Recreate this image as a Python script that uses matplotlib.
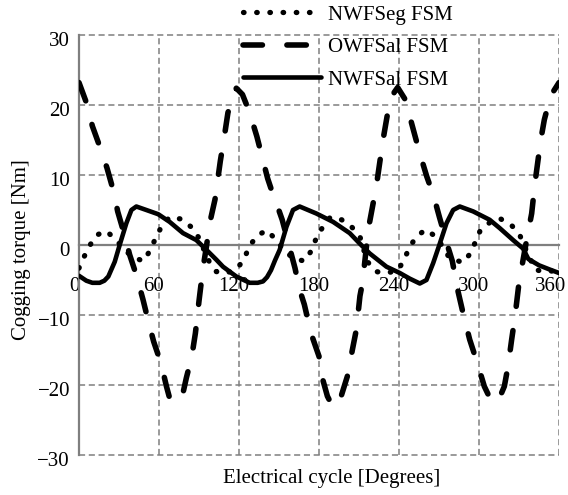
import matplotlib
matplotlib.use("Agg")
import matplotlib.pyplot as plt
from matplotlib.transforms import ScaledTranslation

plt.rcParams["font.family"] = ["Liberation Serif", "DejaVu Serif"]
plt.rcParams["axes.unicode_minus"] = True

# Electrical angle [deg] and cogging torque [Nm] for each machine
angle_seg = [0, 3.5, 8, 13, 20.5, 28, 34, 41, 48.5, 53.5, 57.5, 61.8, 68, 76.8, 84, 90,
             93.5, 97.5, 103, 111, 119, 124, 128, 134, 141, 148, 153.5, 160.7, 169, 174,
             178, 182.6, 188.6, 197, 204, 210.7, 216, 222.6, 231, 239.4, 244, 248, 253,
             260, 267.6, 273, 278, 288, 294, 297.6, 301, 308, 315.6, 324.5, 330.6, 336,
             342, 348, 353, 360]
torque_seg = [-3.3, -1.8, -0.1, 1.4, 2.0, 0.7, -0.7, -1.8, -2.3, -0.7, 1.0, 2.6, 4.0, 3.7,
              2.6, 1.0, -0.6, -2.3, -3.8, -4.0, -3.3, -1.9, -0.1, 1.4, 2.1, 0.7, -0.7, -1.9,
              -2.3, -0.9, 1.0, 2.5, 4.0, 3.6, 2.7, 1.2, -2.3, -3.8, -4.0, -3.6, -2.0, -0.3,
              1.2, 2.2, 1.2, -0.3, -1.9, -2.5, -1.1, 0.6, 2.1, 3.2, 3.8, 2.8, 1.4, -1.0,
              -3.5, -3.8, -3.7, -3.8]

angle_owsal = [0, 6, 10, 15.5, 21, 26.3, 29, 34.5, 38, 43, 48, 52, 56, 61.5, 65.6, 68, 71,
               74, 77, 80.5, 84.6, 87.3, 90, 93, 95.6, 98, 102, 106, 109, 111.7, 115, 118,
               122.6, 128, 133.4, 141.5, 145, 148, 152.4, 157, 162, 165.5, 169, 174, 180,
               182.2, 186.3, 190.3, 193, 195.8, 201.2, 205, 208, 210.7, 212, 214, 216, 218,
               223, 228, 232, 236.4, 239, 244.6, 250, 255.4, 260.8, 266, 270.3, 276.6, 280,
               284, 288, 293, 298.8, 304, 308, 312, 315, 319, 321.8, 324.5, 327, 330, 332.7,
               336, 339.5, 342, 346.3, 349, 353, 356, 360]
torque_owsal = [23.2, 20.1, 17.0, 14.1, 11.0, 7.4, 4.8, 1.2, -1.4, -4.3, -7.8, -10.9, -13.8,
                -16.9, -20.2, -21.9, -22.3, -22.4, -22.0, -19.0, -15.9, -12.6, -8.0, -3.3,
                -0.2, 3.1, 6.5, 12.0, 15.5, 18.9, 21.0, 22.4, 21.5, 18.9, 15.5, 9.5, 7.5, 6.0,
                3.6, 0.3, -3.3, -6.4, -8.5, -12.6, -15.9, -18.8, -21.6, -23.1, -23.0, -22.1,
                -18.8, -15.0, -12.1, -7.3, -6.0, -3.0, 0.5, 3.3, 8.4, 15.0, 19.4, 21.8, 22.5,
                20.8, 17.0, 13.2, 9.8, 7.0, 4.0, -0.2, -2.3, -6.4, -9.7, -13.5, -16.9, -20.2,
                -21.8, -22.6, -22.0, -20.2, -17.3, -13.5, -10.2, -5.4, -2.5, 1.0, 4.5, 8.9,
                15.0, 17.9, 20.8, 22.0, 23.2]

angle_nwsal = [0, 5.5, 10, 15.5, 19, 22, 26.8, 30.5, 35.5, 39.3, 43, 50.5, 59.4, 68, 78, 88,
               95.6, 103, 108, 118, 128, 134, 138, 141, 144, 147, 150.5, 155.6, 160.5, 165.5,
               178, 190.6, 203, 210.6, 218, 230.6, 240.6, 248, 255.6, 260.6, 265.6, 270.6,
               275.6, 280.6, 285.6, 295.6, 308, 315.6, 325.6, 333, 337, 345, 353, 360]
torque_nwsal = [-4.4, -5.1, -5.4, -5.4, -5.1, -4.5, -2.4, 0.0, 3.1, 5.0, 5.5, 5.0, 4.4, 3.3,
                1.7, 0.7, -0.7, -2.1, -3.1, -4.5, -5.4, -5.4, -5.2, -4.6, -3.6, -2.2, -0.7,
                2.6, 5.0, 5.5, 4.5, 3.3, 1.7, 0.2, -1.2, -3.1, -4.0, -4.8, -5.5, -5.0, -2.6,
                0.2, 3.1, 5.0, 5.5, 4.8, 3.6, 2.4, 0.7, -0.5, -2.0, -2.9, -3.5, -4.0]

labels = ["NWFSeg FSM", "OWFSal FSM", "NWFSal FSM"]
x_ticks = [0, 60, 120, 180, 240, 300, 360]
y_ticks = [-30, -20, -10, 0, 10, 20, 30]

W, H = 568, 495
fig = plt.figure(figsize=(W / 100, H / 100), dpi=100)
ax = fig.add_axes([79 / W, 1 - 455 / H, 480 / W, 420 / H])

grid_col = "#7f7f7f"
ln_seg, = ax.plot(angle_seg, torque_seg, color="black", lw=3.8,
                  linestyle=(0, (0.1, 2.4)), dash_capstyle="round", zorder=3)
ln_ow, = ax.plot(angle_owsal, torque_owsal, color="black", lw=4.0,
                 linestyle=(0, (3.5, 4.4)), dash_capstyle="round", zorder=3)
ln_nw, = ax.plot(angle_nwsal, torque_nwsal, color="black", lw=3.3,
                 solid_capstyle="round", zorder=4)

ax.set_xlim(0, 360)
ax.set_ylim(-30, 30)
ax.set_xticks(x_ticks)
ax.set_yticks(y_ticks)

ax.grid(True, color=grid_col, lw=1.1, linestyle=(0, (4, 2.4)))
for gl in ax.get_xgridlines() + ax.get_ygridlines():
    gl.set_clip_on(False)

for side in ["top", "right"]:
    ax.spines[side].set_visible(False)
ax.spines["left"].set_color(grid_col)
ax.spines["left"].set_linewidth(1.6)
ax.spines["bottom"].set_position(("data", 0))
ax.spines["bottom"].set_color(grid_col)
ax.spines["bottom"].set_linewidth(1.6)
ax.spines["bottom"].set_zorder(2)

ax.tick_params(axis="x", length=0, pad=23, labelsize=15)
ax.tick_params(axis="y", length=0, pad=6.5, labelsize=15)
x_labels = ax.get_xticklabels()
for i, lab in enumerate(x_labels):
    dx = -8 if i == len(x_labels) - 1 else -5
    lab.set_transform(lab.get_transform() + ScaledTranslation(dx / 100, 0, fig.dpi_scale_trans))
for lab in ax.get_yticklabels():
    lab.set_transform(lab.get_transform() + ScaledTranslation(0, -4 / 100, fig.dpi_scale_trans))

fig.text(332 / W, 1 - 478 / H, "Electrical cycle [Degrees]", ha="center", va="center",
         fontsize=15)
fig.text(22 / W, 1 - 250 / H, "Cogging torque [Nm]", ha="center", va="center",
         rotation=90, fontsize=15)

leg = fig.legend([ln_seg, ln_ow, ln_nw], labels, loc="upper left",
                 bbox_to_anchor=(243 / W, 1 - 5 / H), frameon=False, fontsize=15,
                 handlelength=3.75, handletextpad=0.35, labelspacing=0.62,
                 borderpad=0, borderaxespad=0)

fig.savefig("out.png", dpi=100)
